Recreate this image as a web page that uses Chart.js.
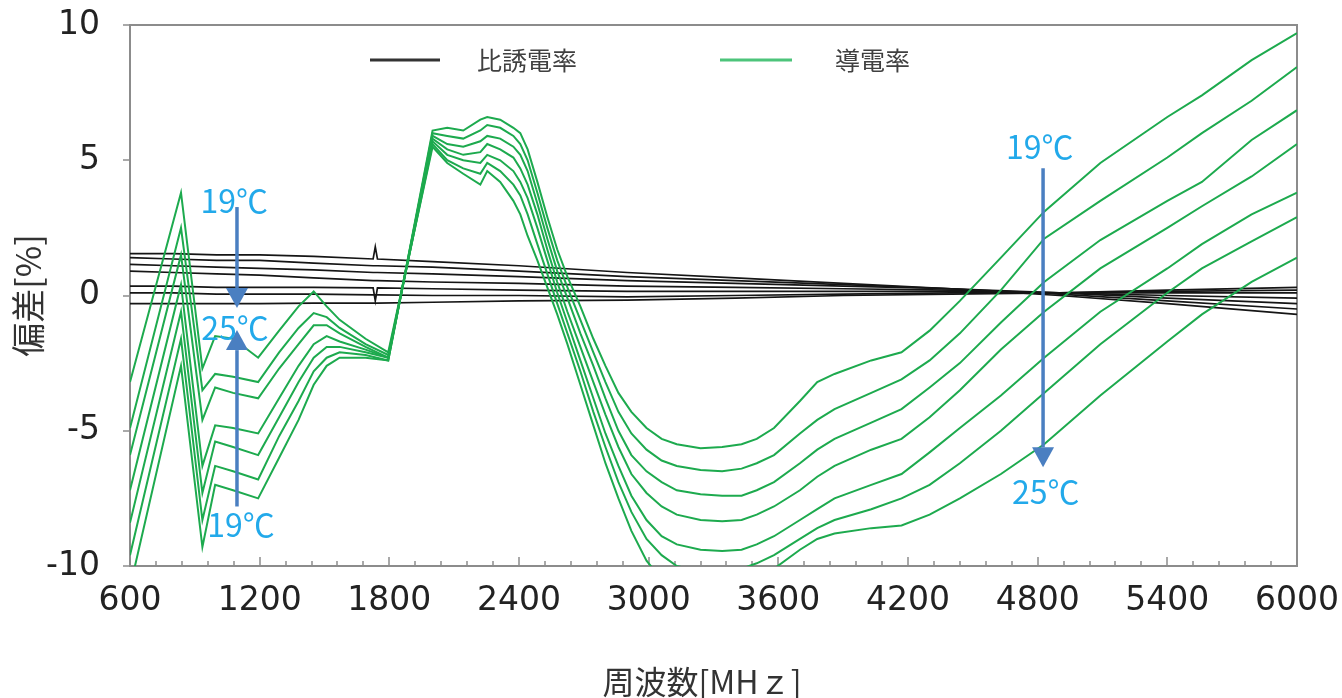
<!DOCTYPE html>
<html>
<head>
<meta charset="utf-8">
<script src="https://cdn.jsdelivr.net/npm/chart.js@4.4.1/dist/chart.umd.min.js"></script>
<style>
  html, body { margin: 0; padding: 0; background: #fff; }
  #wrap { width: 1342px; height: 698px; }
</style>
</head>
<body>
<div id="wrap"><canvas id="chart" width="1342" height="698"></canvas></div>
<script>
// frequency grid for the conductivity curves [MHz]
const condFreq = [600, 836, 935, 994, 1077, 1193, 1290, 1380, 1450, 1510, 1570, 1690, 1795,
  2000, 2068, 2142, 2221, 2253, 2313, 2374, 2406, 2440, 2485, 2531, 2577, 2624, 2684, 2744,
  2800, 2860, 2920, 2990, 3060, 3130, 3240, 3340, 3430, 3500, 3580, 3700, 3780, 3860,
  4030, 4170, 4300, 4440, 4630, 4830, 5090, 5400, 5560, 5790, 6000];

// 導電率 deviation [%], 19C .. 25C
const cond19 = [-10.8, -2.6, -9.3, -7.0, -7.2, -7.5, -6.0, -4.6, -3.3, -2.6, -2.3, -2.3, -2.4,
  6.1, 6.2, 6.1, 6.5, 6.6, 6.5, 6.2, 6.0, 5.4, 4.2, 2.9, 1.7, 0.7, -0.4, -1.6,
  -2.6, -3.6, -4.3, -4.9, -5.3, -5.5, -5.65, -5.6, -5.5, -5.3, -4.9, -3.9, -3.2, -2.9,
  -2.4, -2.1, -1.3, -0.2, 1.4, 3.1, 4.9, 6.6, 7.4, 8.7, 9.7];
const cond20 = [-9.6, -1.6, -8.3, -6.3, -6.5, -6.8, -5.2, -3.9, -2.8, -2.3, -2.1, -2.2, -2.4,
  6.0, 5.9, 5.8, 6.1, 6.3, 6.2, 5.9, 5.6, 5.0, 3.8, 2.5, 1.3, 0.3, -0.9, -2.1,
  -3.2, -4.3, -5.1, -5.7, -6.1, -6.3, -6.45, -6.5, -6.4, -6.2, -5.9, -5.1, -4.6, -4.2,
  -3.6, -3.1, -2.4, -1.4, 0.2, 2.1, 3.5, 5.1, 6.0, 7.2, 8.45];
const cond21 = [-8.4, -0.6, -7.3, -5.4, -5.6, -5.9, -4.5, -3.2, -2.3, -1.9, -1.9, -2.1, -2.3,
  5.9, 5.6, 5.5, 5.7, 5.9, 5.8, 5.5, 5.2, 4.6, 3.4, 2.1, 0.9, -0.1, -1.4, -2.6,
  -3.8, -5.0, -5.9, -6.5, -6.9, -7.2, -7.35, -7.4, -7.4, -7.2, -6.9, -6.2, -5.7, -5.3,
  -4.7, -4.2, -3.4, -2.5, -1.0, 0.5, 2.05, 3.5, 4.2, 5.75, 6.85];
const cond22 = [-7.2, 0.4, -6.3, -4.8, -4.9, -5.1, -3.8, -2.6, -1.8, -1.5, -1.7, -2.0, -2.3,
  5.8, 5.4, 5.2, 5.3, 5.6, 5.4, 5.1, 4.7, 4.1, 3.0, 1.7, 0.5, -0.6, -1.9, -3.2,
  -4.4, -5.6, -6.6, -7.3, -7.8, -8.1, -8.3, -8.35, -8.3, -8.1, -7.8, -7.2, -6.7, -6.3,
  -5.7, -5.3, -4.5, -3.5, -2.0, -0.6, 1.0, 2.5, 3.3, 4.4, 5.6];
const cond23 = [-5.9, 1.5, -4.6, -3.4, -3.6, -3.8, -2.7, -1.8, -1.1, -1.1, -1.4, -1.9, -2.3,
  5.7, 5.2, 5.0, 4.9, 5.2, 5.0, 4.6, 4.2, 3.6, 2.5, 1.3, 0.1, -1.0, -2.4, -3.8,
  -5.1, -6.3, -7.4, -8.3, -8.9, -9.2, -9.4, -9.45, -9.4, -9.2, -8.9, -8.3, -7.9, -7.5,
  -7.0, -6.6, -5.8, -4.9, -3.7, -2.3, -0.6, 1.0, 1.9, 3.0, 3.8];
const cond24 = [-4.9, 2.5, -3.5, -2.9, -3.0, -3.2, -2.1, -1.2, -0.65, -0.8, -1.2, -1.8, -2.2,
  5.6, 5.0, 4.7, 4.5, 4.9, 4.6, 4.1, 3.7, 3.0, 1.9, 0.8, -0.3, -1.4, -2.8, -4.3,
  -5.6, -6.9, -8.0, -9.0, -9.6, -10.0, -10.2, -10.25, -10.1, -9.9, -9.6, -9.0, -8.6, -8.3,
  -7.9, -7.5, -7.0, -6.2, -5.0, -3.6, -1.8, 0.1, 1.0, 2.0, 2.9];
const cond25 = [-3.2, 3.8, -2.7, -1.5, -1.6, -2.3, -1.3, -0.4, 0.15, -0.4, -0.9, -1.6, -2.1,
  5.5, 4.9, 4.5, 4.1, 4.6, 4.2, 3.5, 3.0, 2.2, 1.3, 0.3, -0.7, -1.8, -3.3, -4.8,
  -6.2, -7.5, -8.7, -9.8, -10.5, -10.9, -11.1, -11.1, -10.9, -10.6, -10.1, -9.4, -9.0, -8.8,
  -8.6, -8.5, -8.1, -7.5, -6.6, -5.5, -3.7, -1.7, -0.7, 0.5, 1.4];

// 比誘電率 deviation [%]
const permFreq = [600, 800, 1000, 1200, 1450, 1725, 1735, 1745, 2000, 2400, 2900, 3400, 3900, 4400, 4900, 5400, 6000];
const perm1 = [1.55, 1.55, 1.5, 1.5, 1.45, 1.35, 1.8, 1.35, 1.25, 1.1, 0.85, 0.65, 0.45, 0.25, 0.0, -0.3, -0.7];
const perm2 = [1.4, 1.35, 1.3, 1.3, 1.2, 1.1, 1.1, 1.1, 1.05, 0.9, 0.7, 0.55, 0.4, 0.25, 0.05, -0.2, -0.5];
const perm3 = [1.15, 1.1, 1.05, 1.0, 0.95, 0.85, 0.85, 0.85, 0.8, 0.7, 0.55, 0.45, 0.35, 0.25, 0.1, -0.1, -0.3];
const perm4 = [0.9, 0.85, 0.8, 0.75, 0.65, 0.55, 0.55, 0.55, 0.5, 0.45, 0.35, 0.3, 0.25, 0.2, 0.1, 0.0, -0.1];
const perm5 = [0.35, 0.35, 0.3, 0.3, 0.3, 0.28, -0.2, 0.28, 0.25, 0.2, 0.15, 0.15, 0.15, 0.15, 0.1, 0.1, 0.1];
const perm6 = [0.1, 0.1, 0.05, 0.05, 0.05, 0.02, 0.02, 0.02, 0.0, 0.0, -0.05, 0.0, 0.05, 0.1, 0.1, 0.15, 0.2];
const perm7 = [-0.3, -0.3, -0.3, -0.3, -0.28, -0.28, -0.28, -0.28, -0.25, -0.2, -0.17, -0.1, 0.0, 0.05, 0.1, 0.2, 0.3];

const condSeries = [cond19, cond20, cond21, cond22, cond23, cond24, cond25];
const permSeries = [perm1, perm2, perm3, perm4, perm5, perm6, perm7];

const GREEN = '#1daa4e';
const BLACK = '#151515';

function pts(xs, ys) {
  return xs.map((x, i) => ({ x: x, y: ys[i] }));
}

const datasets = [];
condSeries.forEach(function (s) {
  datasets.push({ data: pts(condFreq, s), borderColor: GREEN, borderWidth: 2 });
});
permSeries.forEach(function (s) {
  datasets.push({ data: pts(permFreq, s), borderColor: BLACK, borderWidth: 1.7 });
});

// temperature arrows + labels (data coords)
const arrows = [
  { x: 1095, from: 3.27, to: -0.46 },
  { x: 1095, from: -7.8, to: -1.28 },
  { x: 4825, from: 4.7, to: -6.35 }
];
const tempLabels = [
  { text: '19℃', x: 1082, y: 3.49 },
  { text: '25℃', x: 1086, y: -1.2 },
  { text: '19℃', x: 1114, y: -8.48 },
  { text: '19℃', x: 4810, y: 5.49 },
  { text: '25℃', x: 4837, y: -7.26 }
];

const framePlugin = {
  id: 'frame',
  beforeDatasetsDraw(chart) {
    const { ctx, chartArea: a, scales: { x, y } } = chart;
    ctx.save();
    ctx.strokeStyle = '#8c8c8c';
    ctx.lineWidth = 2;
    ctx.strokeRect(a.left, a.top, a.right - a.left, a.bottom - a.top);
    ctx.lineWidth = 1.5;
    // x ticks point inwards, minor every 120 MHz
    for (let v = 600; v <= 6000; v += 120) {
      const px = Math.round(x.getPixelForValue(v));
      const len = (v % 600 === 0) ? 9 : 5;
      ctx.beginPath();
      ctx.moveTo(px, a.bottom);
      ctx.lineTo(px, a.bottom - len);
      ctx.stroke();
    }
    for (let v = -10; v <= 10; v += 5) {
      const py = Math.round(y.getPixelForValue(v));
      ctx.beginPath();
      ctx.moveTo(a.left - 7, py);
      ctx.lineTo(a.left, py);
      ctx.stroke();
    }
    ctx.restore();
  }
};

const notePlugin = {
  id: 'notes',
  afterDatasetsDraw(chart) {
    const { ctx, scales: { x, y } } = chart;
    ctx.save();
    ctx.strokeStyle = '#4a7fc1';
    ctx.fillStyle = '#4a7fc1';
    ctx.lineWidth = 3.5;
    arrows.forEach(function (ar) {
      const px = x.getPixelForValue(ar.x);
      const y0 = y.getPixelForValue(ar.from);
      const y1 = y.getPixelForValue(ar.to);
      const dir = y1 > y0 ? 1 : -1;
      const head = 20;
      ctx.beginPath();
      ctx.moveTo(px, y0);
      ctx.lineTo(px, y1 - dir * head);
      ctx.stroke();
      ctx.beginPath();
      ctx.moveTo(px, y1);
      ctx.lineTo(px - 11, y1 - dir * head);
      ctx.lineTo(px + 11, y1 - dir * head);
      ctx.closePath();
      ctx.fill();
    });
    ctx.fillStyle = '#22a9ea';
    ctx.font = '32px "Noto Sans CJK JP"';
    ctx.textAlign = 'center';
    ctx.textBaseline = 'middle';
    tempLabels.forEach(function (t) {
      ctx.fillText(t.text, x.getPixelForValue(t.x), y.getPixelForValue(t.y));
    });
    ctx.restore();
  }
};

// legend and x title are drawn by hand to sit where the original has them
const legendPlugin = {
  id: 'legendLines',
  afterDraw(chart) {
    const ctx = chart.ctx;
    ctx.save();
    ctx.lineWidth = 3;
    ctx.strokeStyle = '#333';
    ctx.beginPath(); ctx.moveTo(370, 60); ctx.lineTo(440, 60); ctx.stroke();
    ctx.strokeStyle = '#4cc47a';
    ctx.beginPath(); ctx.moveTo(720, 60); ctx.lineTo(792, 60); ctx.stroke();
    ctx.fillStyle = '#404040';
    ctx.font = '25px "Noto Sans CJK JP"';
    ctx.textBaseline = 'middle';
    ctx.fillText('比誘電率', 477, 60);
    ctx.fillText('導電率', 835, 60);
    ctx.fillStyle = '#333';
    ctx.font = '32px "Noto Sans CJK JP"';
    ctx.textAlign = 'center';
    ctx.fillText('周波数[MHｚ]', 702, 682);
    ctx.restore();
  }
};

new Chart('chart', {
  type: 'scatter',
  data: { datasets: datasets },
  options: {
    responsive: false,
    animation: false,
    devicePixelRatio: 1,
    showLine: true,
    layout: { padding: { top: 25, right: 45, left: 0, bottom: 0 } },
    elements: { point: { radius: 0 }, line: { tension: 0 } },
    plugins: { legend: { display: false }, tooltip: { enabled: false } },
    scales: {
      x: {
        type: 'linear',
        min: 600, max: 6000,
        grid: { display: false },
        border: { display: false },
        ticks: {
          stepSize: 600, autoSkip: false, maxRotation: 0, padding: 8,
          color: '#222', font: { family: 'DejaVu Sans', size: 33 },
          callback: (v) => String(v)
        },
        afterFit(scale) {
          scale.height = 132;
          scale.paddingLeft = 0;
          scale.paddingRight = 0;
        }
      },
      y: {
        min: -10, max: 10,
        grid: { display: false },
        border: { display: false },
        ticks: {
          stepSize: 5, padding: 22,
          color: '#222', font: { family: 'DejaVu Sans', size: 33 },
          callback: (v) => String(v)
        },
        title: {
          display: true, text: '偏差[%]', color: '#333',
          font: { family: 'Noto Sans CJK JP', size: 34, lineHeight: 1.0 },
          padding: { top: 11, bottom: 0 }
        },
        afterFit(scale) {
          scale.width = 130;
          scale.paddingTop = 0;
          scale.paddingBottom = 0;
        }
      }
    }
  },
  plugins: [framePlugin, notePlugin, legendPlugin]
});
</script>
</body>
</html>
